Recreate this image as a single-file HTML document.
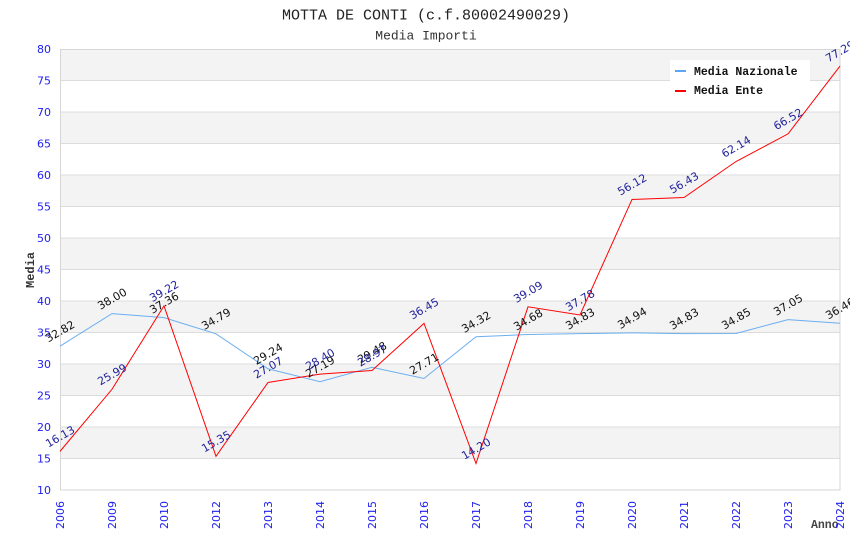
<!DOCTYPE html>
<html><head><meta charset="utf-8"><style>
html,body{margin:0;padding:0;background:#fff;}
svg{display:block;}
text{font-family:"DejaVu Sans","Liberation Sans",sans-serif;}
.mono{font-family:"Liberation Mono","DejaVu Sans Mono",monospace;}
</style></head><body>
<svg width="850" height="550" viewBox="0 0 850 550" xmlns="http://www.w3.org/2000/svg">
<rect width="850" height="550" fill="#fff"/>
<!-- bands -->
<g fill="#f3f3f3">
<rect x="60" y="49" width="780" height="31.5"/>
<rect x="60" y="112" width="780" height="31.5"/>
<rect x="60" y="175" width="780" height="31.5"/>
<rect x="60" y="238" width="780" height="31.5"/>
<rect x="60" y="301" width="780" height="31.5"/>
<rect x="60" y="364" width="780" height="31.5"/>
<rect x="60" y="427" width="780" height="31.5"/>
</g>
<g stroke="#dcdcdc" stroke-width="1">
<line x1="60" y1="80.5" x2="840" y2="80.5"/>
<line x1="60" y1="112" x2="840" y2="112"/>
<line x1="60" y1="143.5" x2="840" y2="143.5"/>
<line x1="60" y1="175" x2="840" y2="175"/>
<line x1="60" y1="206.5" x2="840" y2="206.5"/>
<line x1="60" y1="238" x2="840" y2="238"/>
<line x1="60" y1="269.5" x2="840" y2="269.5"/>
<line x1="60" y1="301" x2="840" y2="301"/>
<line x1="60" y1="332.5" x2="840" y2="332.5"/>
<line x1="60" y1="364" x2="840" y2="364"/>
<line x1="60" y1="395.5" x2="840" y2="395.5"/>
<line x1="60" y1="427" x2="840" y2="427"/>
<line x1="60" y1="458.5" x2="840" y2="458.5"/>
</g>
<rect x="60.5" y="49.5" width="779.5" height="440.5" fill="none" stroke="#d6d6d6" stroke-width="1"/>

<!-- titles -->
<text class="mono" x="426" y="19.5" font-size="15" text-anchor="middle" fill="#222">MOTTA DE CONTI (c.f.80002490029)</text>
<text class="mono" x="426" y="39.5" font-size="13" text-anchor="middle" fill="#333">Media Importi</text>

<!-- y labels -->
<g font-size="11" fill="#2020f0" text-anchor="end">
<text x="51" y="53">80</text>
<text x="51" y="84.5">75</text>
<text x="51" y="116">70</text>
<text x="51" y="147.5">65</text>
<text x="51" y="179">60</text>
<text x="51" y="210.5">55</text>
<text x="51" y="242">50</text>
<text x="51" y="273.5">45</text>
<text x="51" y="305">40</text>
<text x="51" y="336.5">35</text>
<text x="51" y="368">30</text>
<text x="51" y="399.5">25</text>
<text x="51" y="431">20</text>
<text x="51" y="462.5">15</text>
<text x="51" y="494">10</text>
</g>
<text class="mono" transform="translate(34,270) rotate(-90)" font-size="12" font-weight="bold" text-anchor="middle" fill="#333">Media</text>
<text class="mono" x="811" y="528" font-size="11.5" font-weight="bold" fill="#444">Anno</text>

<!-- x labels -->
<g font-size="11" fill="#2020f0" text-anchor="end">
<text transform="translate(60,501) rotate(-90)" y="4">2006</text>
<text transform="translate(112,501) rotate(-90)" y="4">2009</text>
<text transform="translate(164,501) rotate(-90)" y="4">2010</text>
<text transform="translate(216,501) rotate(-90)" y="4">2012</text>
<text transform="translate(268,501) rotate(-90)" y="4">2013</text>
<text transform="translate(320,501) rotate(-90)" y="4">2014</text>
<text transform="translate(372,501) rotate(-90)" y="4">2015</text>
<text transform="translate(424,501) rotate(-90)" y="4">2016</text>
<text transform="translate(476,501) rotate(-90)" y="4">2017</text>
<text transform="translate(528,501) rotate(-90)" y="4">2018</text>
<text transform="translate(580,501) rotate(-90)" y="4">2019</text>
<text transform="translate(632,501) rotate(-90)" y="4">2020</text>
<text transform="translate(684,501) rotate(-90)" y="4">2021</text>
<text transform="translate(736,501) rotate(-90)" y="4">2022</text>
<text transform="translate(788,501) rotate(-90)" y="4">2023</text>
<text transform="translate(840,501) rotate(-90)" y="4">2024</text>
</g>

<!-- series -->
<polyline fill="none" stroke="#6aaef0" stroke-width="1" points="60,346.23 112,313.6 164,317.63 216,333.82 268,368.79 320,381.7 372,367.28 424,378.49 476,336.78 528,334.52 580,333.57 632,332.88 684,333.57 736,333.44 788,319.58 840,323.3"/>
<polyline fill="none" stroke="#ff0000" stroke-width="1" points="60,451.38 112,389.26 164,305.91 216,456.29 268,382.46 320,374.08 372,370.49 424,323.36 476,463.54 528,306.8 580,314.99 632,199.44 684,197.49 736,161.52 788,133.92 840,66.07"/>

<!-- naz labels -->
<g font-size="11" fill="#111" text-anchor="middle">
<text transform="translate(60,331.2) rotate(-30)" y="4">32.82</text>
<text transform="translate(112,298.6) rotate(-30)" y="4">38.00</text>
<text transform="translate(164,302.6) rotate(-30)" y="4">37.36</text>
<text transform="translate(216,318.8) rotate(-30)" y="4">34.79</text>
<text transform="translate(268,353.8) rotate(-30)" y="4">29.24</text>
<text transform="translate(320,366.7) rotate(-30)" y="4">27.19</text>
<text transform="translate(372,352.3) rotate(-30)" y="4">29.48</text>
<text transform="translate(424,363.5) rotate(-30)" y="4">27.71</text>
<text transform="translate(476,321.8) rotate(-30)" y="4">34.32</text>
<text transform="translate(528,319.5) rotate(-30)" y="4">34.68</text>
<text transform="translate(580,318.6) rotate(-30)" y="4">34.83</text>
<text transform="translate(632,317.9) rotate(-30)" y="4">34.94</text>
<text transform="translate(684,318.6) rotate(-30)" y="4">34.83</text>
<text transform="translate(736,318.4) rotate(-30)" y="4">34.85</text>
<text transform="translate(788,304.6) rotate(-30)" y="4">37.05</text>
<text transform="translate(840,308.3) rotate(-30)" y="4">36.46</text>
</g>
<!-- ente labels -->
<g font-size="11" fill="#22229b" text-anchor="middle">
<text transform="translate(60,436.4) rotate(-30)" y="4">16.13</text>
<text transform="translate(112,374.3) rotate(-30)" y="4">25.99</text>
<text transform="translate(164,290.9) rotate(-30)" y="4">39.22</text>
<text transform="translate(216,441.3) rotate(-30)" y="4">15.35</text>
<text transform="translate(268,367.5) rotate(-30)" y="4">27.07</text>
<text transform="translate(320,359.1) rotate(-30)" y="4">28.40</text>
<text transform="translate(372,355.5) rotate(-30)" y="4">28.97</text>
<text transform="translate(424,308.4) rotate(-30)" y="4">36.45</text>
<text transform="translate(476,448.5) rotate(-30)" y="4">14.20</text>
<text transform="translate(528,291.8) rotate(-30)" y="4">39.09</text>
<text transform="translate(580,300) rotate(-30)" y="4">37.78</text>
<text transform="translate(632,184.4) rotate(-30)" y="4">56.12</text>
<text transform="translate(684,182.5) rotate(-30)" y="4">56.43</text>
<text transform="translate(736,146.5) rotate(-30)" y="4">62.14</text>
<text transform="translate(788,118.9) rotate(-30)" y="4">66.52</text>
<text transform="translate(840,51.1) rotate(-30)" y="4">77.29</text>
</g>

<!-- legend -->
<rect x="670" y="60" width="140" height="42" fill="#fff"/>
<rect x="675" y="70" width="11" height="2" fill="#5aa8f5"/>
<rect x="675" y="90" width="11" height="2" fill="#ff0000"/>
<text class="mono" x="694" y="75" font-size="11.5" font-weight="bold" fill="#111">Media Nazionale</text>
<text class="mono" x="694" y="94" font-size="11.5" font-weight="bold" fill="#111">Media Ente</text>
</svg>
</body></html>
